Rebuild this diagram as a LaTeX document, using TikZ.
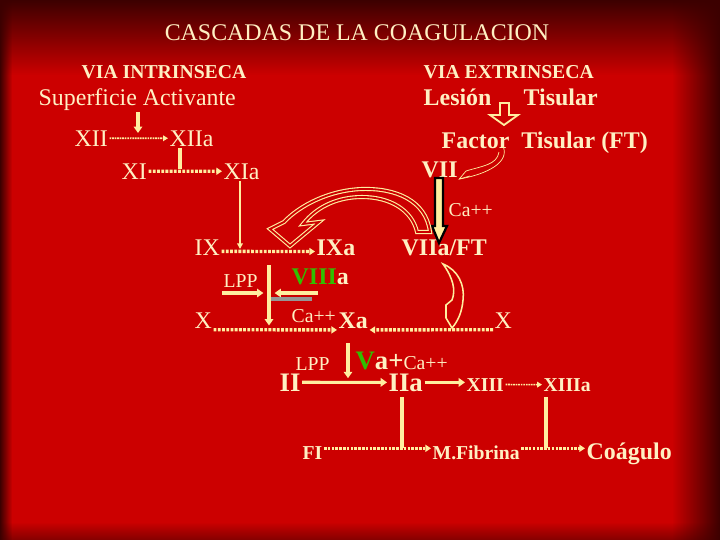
\documentclass[tikz,border=0pt]{standalone}
\usepackage{fontspec}
\setmainfont{Liberation Serif}
\usetikzlibrary{arrows.meta,fadings}
\definecolor{bgred}{RGB}{204,0,0}
\definecolor{bgdark}{RGB}{60,0,0}
\definecolor{cream}{RGB}{255,240,195}
\definecolor{yel}{RGB}{255,238,160}
\definecolor{vgreen}{RGB}{50,190,0}
\definecolor{bargray}{RGB}{150,150,150}
\tikzfading[name=fadetop, top color=transparent!0, bottom color=transparent!100]
\tikzfading[name=faderight, left color=transparent!100, right color=transparent!0]
\tikzfading[name=fadeleft, left color=transparent!0, right color=transparent!100]
\tikzfading[name=fadebottom, top color=transparent!100, bottom color=transparent!0]

\begin{document}
\begin{tikzpicture}[x=0.025cm,y=-0.025cm,
  lbl/.style={text=cream,inner sep=1pt,anchor=base west},
  r17/.style={lbl,font=\fontsize{17}{20}\selectfont},
  b17/.style={lbl,font=\fontsize{17}{20}\selectfont\bfseries},
  b19/.style={lbl,font=\fontsize{19}{22}\selectfont\bfseries},
  r14/.style={lbl,font=\fontsize{14}{16}\selectfont},
  b14/.style={lbl,font=\fontsize{14}{16}\selectfont\bfseries},
  solidarr/.style={draw=yel,line width=2.2pt,->,>={Triangle[length=4.5pt,width=6pt]}},
  solidline/.style={draw=yel,line width=2.2pt},
  thinarr/.style={draw=yel,line width=1pt,->,>={Triangle[length=4pt,width=4pt]}},
  dotarr/.style={draw=yel,line width=2.4pt,dash pattern=on 2pt off 1pt,->,>={Triangle[length=4pt,width=5pt]}},
  dotmid/.style={draw=yel,line width=2pt,dash pattern=on 1.8pt off 0.9pt,->,>={Triangle[length=4pt,width=5pt]}},
  dotthin/.style={draw=yel,line width=1.2pt,dash pattern=on 1.2pt off 0.6pt,->,>={Triangle[length=3.5pt,width=4pt]}},
  hollow/.style={draw=yel,line width=0.8pt,double=bgred,double distance=1.3pt,line join=miter},
  blockarr/.style={draw=yel,line width=1.3pt,line join=miter},
  fine/.style={draw=yel,line width=0.5pt}]
\useasboundingbox (0,0) rectangle (720,540);
\fill[bgred] (0,0) rectangle (720,540);
\fill[bgdark,path fading=fadetop] (0,0) rectangle (720,75);
\fill[bgdark,path fading=faderight] (672,0) rectangle (720,540);
\fill[bgdark,path fading=fadeleft] (0,0) rectangle (12,540);
\fill[bgdark,path fading=fadebottom,opacity=0.5] (0,522) rectangle (720,540);

\node (title) [r17,anchor=base] at (357,40) {CASCADAS DE LA COAGULACION};
\node (viain) [b14] at (80,78) {VIA INTRINSECA};
\node (viaex) [b14] at (422,78) {VIA EXTRINSECA};
\node (sa) [r17] at (37,105) {Superficie Activante};
\node (les) [b17] at (422,105) {Lesión};
\node (tis) [b17] at (522,105) {Tisular};
\node (xii) [r17] at (73,146) {XII};
\node (xiia) [r17] at (168,146) {XIIa};
\node (xi) [r17] at (120,179) {XI};
\node (xia) [r17] at (222,179) {XIa};
\node (ft) [b17] at (440,148) {Factor\ \ Tisular (FT)};
\node (vii) [b17] at (420,177) {VII};
\node (ca1) [r14] at (447,216) {Ca++};
\node (ix) [r17] at (193,255) {IX};
\node (ixa) [b17] at (315,255) {IXa};
\node (viiaft) [b17] at (400,255) {VIIa/FT};
\node (lpp1) [r14] at (222,287) {LPP};
\node (viiia) [b17] at (290,284) {{\color{vgreen}VIII}a};
\node (xl) [r17] at (193,328) {X};
\node (ca2) [r14] at (290,322) {Ca++};
\node (xa) [b17] at (337,328) {Xa};
\node (xr) [r17] at (493,328) {X};
\node (lpp2) [r14] at (294,370) {LPP};
\node (va) [b19] at (354,369) {{\color{vgreen}V}a+{\fontsize{14}{16}\selectfont\mdseries Ca++}};
\node (ii) [b19] at (278,391) {II};
\node (iia) [b19] at (387,391) {IIa};
\node (xiii) [b14] at (465,391) {XIII};
\node (xiiia) [b14] at (542,391) {XIIIa};
\node (fi) [b14] at (301,459) {FI};
\node (mfib) [b14] at (431,459) {M.Fibrina};
\node (coag) [b17] at (585,459) {Coágulo};

\coordinate (p12) at (138,133);
\coordinate (p11) at (180,169);
\coordinate (p9) at (240,249);
\coordinate (vt) at (269,265);
\coordinate (l1) at (222,293);
\coordinate (l8) at (318,293);
\coordinate (p2) at (348,343);
\coordinate (q2) at (402,397);
\coordinate (q13) at (546,397);
\coordinate (fl) at ([yshift=3pt]fi.east);

\draw[solidarr] (sa.south -| p12) -- (p12);
\draw[dotthin] (xii) -- (xiia);
\draw[solidline] (xiia.south -| p11) -- (p11);
\draw[dotarr] (xi) -- (xia);
\draw[thinarr] (xia.south -| p9) -- (p9);
\draw[dotarr] ([yshift=-3pt]ix.east) -- ([yshift=-3pt]ixa.west);
\draw[solidarr,shorten >=4pt] (l1) -- (l1 -| vt);
\draw[solidarr,shorten >=4pt] (l8) -- (l8 -| vt);
\draw[bargray,line width=3pt] (271,299) -- (312,299);
\draw[solidarr,shorten >=3pt] (vt) -- (vt |- xl.south);
\draw[dotarr] (xl.south east) -- (xa.south west);
\draw[dotarr] (xr.south west) -- (xa.south east);
\draw[solidarr,shorten >=3pt] (p2) -- (p2 |- iia);
\draw[solidarr] (ii) -- (iia);
\draw[solidarr] (iia) -- (iia -| xiii.west);
\draw[dotthin] (xiii) -- (xiiia);
\draw[dotmid] (fl) -- (fl -| mfib.west);
\draw[dotmid] (fl -| mfib.east) -- (fl -| coag.west);
\draw[solidline] (q2) -- (q2 |- fl);
\draw[solidline] (q13) -- (q13 |- fl);

\draw[blockarr] (500,103) -- (500,115) -- (490,115) -- (504,125) -- (518,115) -- (509,115) -- (509,103) -- cycle;
\draw[fine] (503,146) .. controls (510,162) and (488,174) .. (vii.south east);
\draw[fine] (499,152) .. controls (497,165) and (482,166) .. (466,171);
\draw[fine] (466,171) -- (vii.south east) -- (470,176);
\draw[black,line width=1.6pt,fill=yel] (435,178) -- (435,226) -- (432,226) -- (439,243) -- (447,226) -- (443,226) -- (443,178) -- cycle;
\draw[hollow] (430,232) .. controls (426,200) and (395,188) .. (362,189)
  .. controls (330,190) and (300,205) .. (284,222)
  -- (270,229) -- (290,246) -- (319,222) -- (303,224)
  .. controls (318,205) and (340,197) .. (362,197)
  .. controls (390,197) and (412,210) .. (417,232) -- cycle;
\draw[blockarr,line width=1.1pt] (443,264) .. controls (458,270) and (465,285) .. (463,300)
  .. controls (462,312) and (458,321) .. (452,328) -- (446,318) -- (446,305) -- (452,300)
  .. controls (456,290) and (453,278) .. cycle;
\end{tikzpicture}
\end{document}
